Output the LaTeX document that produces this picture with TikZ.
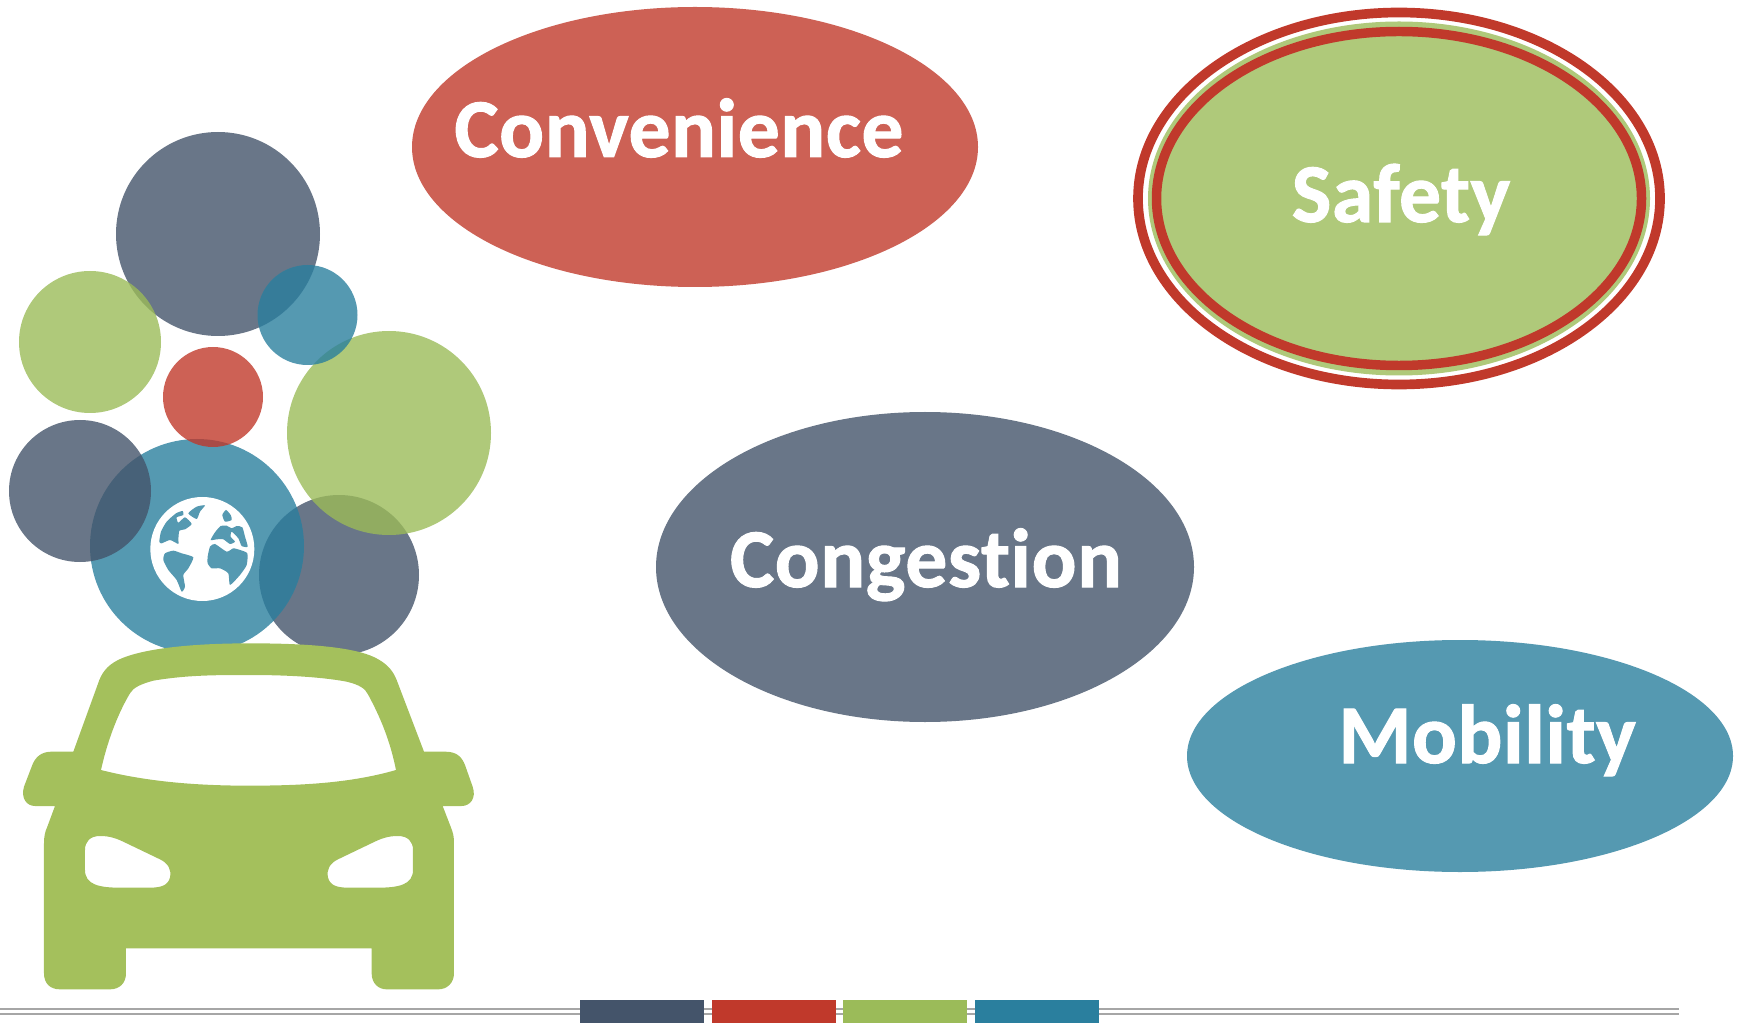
\documentclass[tikz,border=0pt]{standalone}
\usepackage{fontspec}
\setmainfont{Carlito}
\newfontfamily\titlefont[Ligatures=NoCommon,LetterSpace=0.7,BoldFeatures={FakeBold=1.2}]{Carlito}
\definecolor{cdark}{HTML}{44546A}
\definecolor{cred}{HTML}{C0392B}
\definecolor{cgreen}{HTML}{9BBB59}
\definecolor{cteal}{HTML}{2A7F9E}
\definecolor{ccar}{HTML}{A4C05C}
\definecolor{cocean}{HTML}{5599B1}
\definecolor{cline}{HTML}{A6A6A6}
\tikzset{
  blob/.style={fill=#1,fill opacity=.8,draw=none},
  title/.style={text=white,font=\titlefont\bfseries\fontsize{47.6}{50}\selectfont,anchor=base,inner sep=0pt},
  swatch/.style={fill=#1,draw=none},
  rail/.style={draw=cline,line width=1.3pt},
  sea/.style={fill=cocean,draw=none}
}
\begin{document}
\begin{tikzpicture}[x=0.02cm,y=-0.02cm]
\useasboundingbox (0,0) rectangle (1747,1023);
% large ellipses
\fill[blob=cred] (695,147) ellipse [x radius=283,y radius=140];
\fill[blob=cdark] (925,567) ellipse [x radius=269,y radius=155];
\fill[blob=cteal] (1460,756) ellipse [x radius=273,y radius=116];
\draw[cred,line width=5.5pt] (1399,198.5) ellipse [x radius=261,y radius=186];
\fill[blob=cgreen] (1399,198.5) ellipse [x radius=251,y radius=177];
\draw[cred,line width=5.4pt] (1399,198.5) ellipse [x radius=242.5,y radius=167];
\node[title] (convenience) at (679,157) {Convenience};
\node[title] (safety) at (1401,222) {Safety};
\node[title] (congestion) at (926,587) {Congestion};
\node[title] (mobility) at (1487,763) {Mobility};
% bubbles
\fill[blob=cdark] (218,234) circle [radius=102];
\fill[blob=cgreen] (90,342) circle [radius=71];
\fill[blob=cdark] (339,575) circle [radius=80];
\fill[blob=cgreen] (389,433) circle [radius=102];
\fill[blob=cteal] (307.5,315) circle [radius=50];
\fill[blob=cteal] (197,546) circle [radius=107];
\fill[blob=cdark] (80,491) circle [radius=71];
\fill[blob=cred] (213,397) circle [radius=50];
% globe
\begin{scope}[shift={(50,400)},scale=1/3]
\fill[white] (457,447) circle [radius=156];
\fill[sea] plot[smooth cycle,tension=.35] coordinates {(415,340) (440,320) (465,316) (450,335) (440,357)};
\fill[sea] plot[smooth cycle,tension=.35] coordinates {(328,425) (333,395) (350,365) (378,340) (398,333) (400,345) (380,352) (385,368) (405,352) (425,372) (405,388) (388,392) (385,420) (385,432) (360,420) (335,430)};
\fill[sea] plot[smooth cycle,tension=.35] coordinates {(345,460) (370,452) (395,460) (430,472) (415,505) (400,525) (405,560) (395,575) (380,540) (355,510) (340,480)};
\fill[sea] plot[smooth cycle,tension=.35] coordinates {(517,345) (528,330) (542,345) (545,360) (525,365)};
\fill[sea] plot[smooth cycle,tension=.35] coordinates {(482,420) (495,397) (512,378) (530,377) (545,385) (560,378) (577,382) (585,410) (593,440) (575,438) (565,415) (545,395) (542,410) (555,425) (540,432) (520,418) (500,418)};
\fill[sea] plot[smooth cycle,tension=.35] coordinates {(473,470) (480,440) (495,432) (530,455) (550,445) (570,450) (592,460) (590,495) (570,525) (540,555) (535,520) (510,505) (485,505) (473,490)};
\end{scope}
% car
\begin{scope}[shift={(0,620)},scale=1/3]
\fill[ccar,even odd rule]
 (750,70) .. controls (950,70) and (1080,85) .. (1135,118) .. controls (1165,135) and (1180,155) .. (1190,180) -- (1272,395) -- (1335,395) .. controls (1370,395) and (1385,410) .. (1395,435) -- (1418,500) .. controls (1430,535) and (1410,558) .. (1385,558) -- (1328,558) -- (1352,620) .. controls (1360,640) and (1362,650) .. (1362,670) -- (1362,1060) .. controls (1362,1090) and (1340,1108) .. (1315,1108) -- (1160,1108) .. controls (1135,1108) and (1115,1090) .. (1115,1060) -- (1115,985) -- (378,985) -- (378,1060) .. controls (378,1090) and (358,1108) .. (330,1108) -- (180,1108) .. controls (150,1108) and (132,1090) .. (132,1060) -- (132,670) .. controls (132,650) and (135,635) .. (142,620) -- (165,558) -- (105,558) .. controls (80,558) and (62,535) .. (72,500) -- (95,440) .. controls (105,410) and (125,395) .. (155,395) -- (220,395) -- (298,180) .. controls (310,150) and (330,130) .. (365,115) .. controls (430,88) and (560,70) .. (750,70) -- cycle
 (303,450) .. controls (325,350) and (360,270) .. (390,220) .. controls (400,203) and (420,193) .. (460,182) .. controls (560,165) and (650,165) .. (750,165) .. controls (850,165) and (960,170) .. (1040,185) .. controls (1080,195) and (1095,205) .. (1105,225) .. controls (1140,290) and (1170,360) .. (1188,450) .. controls (1050,490) and (900,497) .. (745,497) .. controls (590,497) and (440,485) .. (303,450) -- cycle
 (300,648) .. controls (330,648) and (350,655) .. (380,670) -- (480,718) .. controls (505,730) and (515,750) .. (510,772) .. controls (505,795) and (485,803) .. (450,803) -- (360,803) .. controls (300,803) and (255,795) .. (255,750) -- (255,690) .. controls (255,665) and (270,648) .. (300,648) -- cycle
 (1194,648) .. controls (1164,648) and (1144,655) .. (1114,670) -- (1014,718) .. controls (989,730) and (979,750) .. (984,772) .. controls (989,795) and (1009,803) .. (1044,803) -- (1134,803) .. controls (1194,803) and (1239,795) .. (1239,750) -- (1239,690) .. controls (1239,665) and (1224,648) .. (1194,648) -- cycle;
\end{scope}
% footer
\coordinate (railA) at (0,1009);
\coordinate (railAe) at (1679,1009);
\coordinate (railB) at (0,1013.7);
\coordinate (railBe) at (1679,1013.7);
\draw[rail] (railA) -- (railAe);
\draw[rail] (railB) -- (railBe);
\fill[swatch=cdark] (580,1000) rectangle (704,1023);
\fill[swatch=cred] (712,1000) rectangle (836,1023);
\fill[swatch=cgreen] (843,1000) rectangle (967,1023);
\fill[swatch=cteal] (975,1000) rectangle (1099,1023);
\end{tikzpicture}
\end{document}
